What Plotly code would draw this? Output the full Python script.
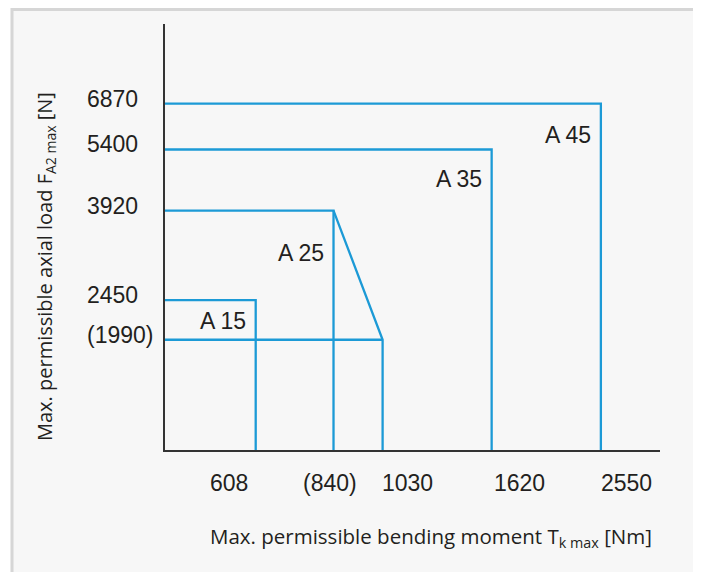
import math
import plotly.graph_objects as go

# ---- data ----
sizes = ["A 15", "A 25", "A 35", "A 45"]
max_moment = [608, 840, 1620, 2550]        # T_k max [Nm]
max_axial = [2450, 3920, 5400, 6870]       # F_A2 max [N]
a25_ext_moment = 1030                      # A 25 with reduced axial load
a25_ext_axial = 1990

x_ticks = [608, 840, 1030, 1620, 2550]
x_ticktext = ["608", "(840)", "1030", "1620", "2550"]
y_ticks = [6870, 5400, 3920, 2450, 1990]
y_ticktext = ["6870", "5400", "3920", "2450", "(1990)"]

# ---- layout constants (page body adds an 8px margin) ----
OFF = 8
W, H = 693, 564
L, R, T, B = 157, 41, 16, 122
PW, PH = W - L - R, H - T - B
x_range = [2.6203, 3.5132]      # log10 units
y_range = [3.0477, 4.0183]      # log10 units
x_lo, y_lo = 10 ** x_range[0], 10 ** y_range[0]

BLUE = "#1c9ad6"
INK = "#231f20"
NUM_FONT = dict(family="Liberation Sans, Arial, sans-serif", size=23, color=INK)


def px(p):
    return (p - OFF - L) / PW


def py(p):
    return (H - B - (p - OFF)) / PH


fig = go.Figure()


def add_line(xs, ys):
    fig.add_trace(go.Scatter(x=xs, y=ys, mode="lines", line=dict(color=BLUE, width=2.3),
                             hoverinfo="skip", showlegend=False, cliponaxis=False))


for m, a in zip(max_moment, max_axial):
    add_line([x_lo, m, m], [a, a, y_lo])

# A 25 bevel down to the reduced load point
add_line([max_moment[1], a25_ext_moment, a25_ext_moment], [max_axial[1], a25_ext_axial, y_lo])
add_line([x_lo, a25_ext_moment], [a25_ext_axial, a25_ext_axial])

ann = []
# size labels, just left of each vertical line
label_drop = [-21, -42, -30, -31]
for s, m, a, d in zip(sizes, max_moment, max_axial, label_drop):
    ann.append(dict(x=math.log10(m), y=math.log10(a), text=s, showarrow=False, xanchor="right",
                    yanchor="middle", xshift=-8, yshift=d, font=NUM_FONT))

# y tick labels, left aligned
for v, t in zip(y_ticks, y_ticktext):
    ann.append(dict(x=0, xref="paper", y=math.log10(v), text=t, showarrow=False, xanchor="left",
                    yanchor="middle", xshift=-80, yshift=5, font=NUM_FONT))

# x tick labels
x_anchor = ["right", "center", "left", "left", "left"]
x_shift = [-6, -4, -3, 0, -2]
for v, t, a, s in zip(x_ticks, x_ticktext, x_anchor, x_shift):
    ann.append(dict(x=math.log10(v), y=0, yref="paper", text=t, showarrow=False, xanchor=a,
                    yanchor="middle", xshift=s, yshift=-33, font=NUM_FONT))

# axis titles
ann.append(dict(x=px(431), xref="paper", y=py(537), yref="paper", showarrow=False,
                text="Max. permissible bending moment T<sub>k max</sub> [Nm]",
                font=dict(family="Open Sans, sans-serif", size=20.5, color=INK),
                xanchor="center", yanchor="middle"))
ann.append(dict(x=px(45), xref="paper", y=py(267), yref="paper", showarrow=False, textangle=-90,
                text="Max. permissible axial load F<sub>A2 max</sub> [N]",
                font=dict(family="Open Sans, sans-serif", size=20, color=INK),
                xanchor="center", yanchor="middle"))

fig.update_layout(
    width=W, height=H,
    margin=dict(l=L, r=R, t=T, b=B, pad=0),
    paper_bgcolor="white", plot_bgcolor="#f7f7f7",
    annotations=ann,
    shapes=[dict(type="rect", xref="paper", yref="paper", layer="below",
                 x0=px(12), x1=px(695), y0=py(620), y1=py(9.5),
                 fillcolor="#f7f7f7", line=dict(color="#d6d6d6", width=3))],
    xaxis=dict(type="log", range=x_range, showgrid=False, zeroline=False, showticklabels=False,
               showline=True, linecolor="#333333", linewidth=1.5, ticks=""),
    yaxis=dict(type="log", range=y_range, showgrid=False, zeroline=False, showticklabels=False,
               showline=True, linecolor="#333333", linewidth=1.5, ticks=""),
)

fig.write_html("out.html")
